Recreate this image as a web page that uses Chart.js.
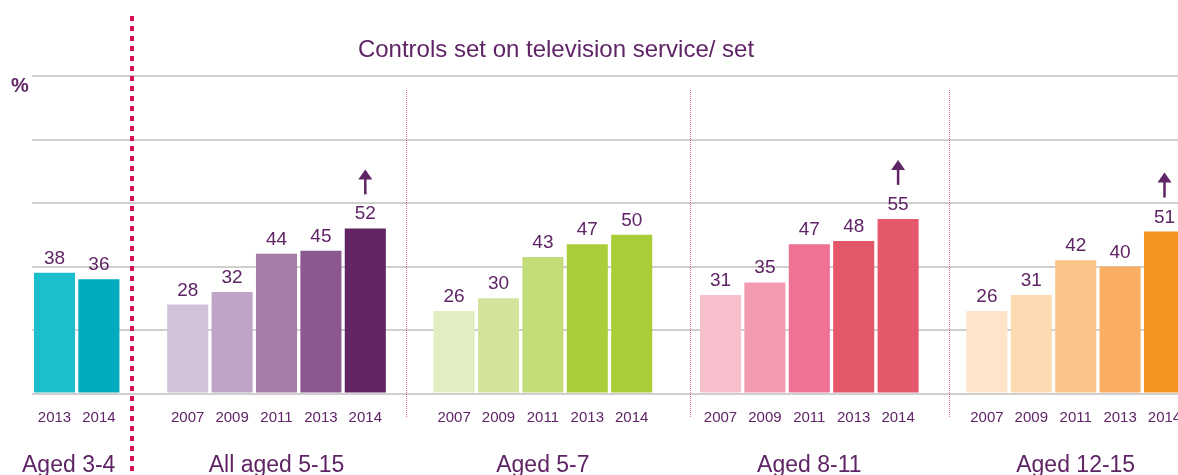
<!DOCTYPE html>
<html>
<head>
<meta charset="utf-8">
<script src="https://cdn.jsdelivr.net/npm/chart.js@4.4.1/dist/chart.umd.min.js"></script>
<style>
  html, body { margin: 0; padding: 0; background: #fff; }
  #wrap { width: 1178px; height: 475px; overflow: hidden; position: relative; }
</style>
</head>
<body>
<div id="wrap"><canvas id="myChart" width="1200" height="475"></canvas></div>
<script>
// data, gaps between age groups are null
const years = ['2013', '2014', '', '2007', '2009', '2011', '2013', '2014', '', '2007', '2009', '2011', '2013', '2014', '',
    '2007', '2009', '2011', '2013', '2014', '', '2007', '2009', '2011', '2013', '2014'];
const values = [38, 36, null, 28, 32, 44, 45, 52, null, 26, 30, 43, 47, 50, null,
    31, 35, 47, 48, 55, null, 26, 31, 42, 40, 51];
// significant change since 2013 (arrow up)
const arrowUp = [false, false, false, false, false, false, false, true, false, false, false, false, false, false, false,
    false, false, false, false, true, false, false, false, false, false, true];
const groupNames = ['Aged 3-4', 'All aged 5-15', 'Aged 5-7', 'Aged 8-11', 'Aged 12-15'];
const yTicks = [0, 20, 40, 60, 80, 100];

const barColors = ['#1bbecd', '#00abbd', null,
    '#d3c1da', '#bfa4c8', '#a57ba8', '#8c5890', '#622462', null,
    '#e2edc2', '#d2e39b', '#c2dc77', '#aace3a', '#a9cd36', null,
    '#f8c0cc', '#f39ab0', '#ef7295', '#e4566a', '#e5576a', null,
    '#fee4c8', '#fddab1', '#fbc58a', '#f9ae63', '#f5931f'];

const purple = '#5f2465';
const font = '"Liberation Sans", Arial, sans-serif';

// separators, in category units (first one is the thick red line)
const separators = [1.75, 7.92, 14.31, 20.15];

const decor = {
    id: 'decor',
    afterDatasetsDraw(chart) {
        const ctx = chart.ctx;
        const x = chart.scales.x;
        const meta = chart.getDatasetMeta(0);
        ctx.save();

        // value labels and arrows
        ctx.fillStyle = purple;
        ctx.strokeStyle = purple;
        ctx.textAlign = 'center';
        ctx.textBaseline = 'alphabetic';
        ctx.font = '19px ' + font;
        meta.data.forEach((bar, i) => {
            if (values[i] == null) return;
            ctx.fillText(String(values[i]), bar.x, bar.y - 9);
            if (arrowUp[i]) {
                const bottom = bar.y - 34;
                const top = bar.y - 59;
                ctx.lineWidth = 2.5;
                ctx.beginPath();
                ctx.moveTo(bar.x, bottom);
                ctx.lineTo(bar.x, top + 6);
                ctx.stroke();
                ctx.beginPath();
                ctx.moveTo(bar.x, top);
                ctx.lineTo(bar.x - 7, top + 10);
                ctx.lineTo(bar.x + 7, top + 10);
                ctx.closePath();
                ctx.fill();
            }
        });

        // group labels
        ctx.font = '23px ' + font;
        ctx.textBaseline = 'alphabetic';
        let start = 0, g = 0;
        for (let i = 0; i <= values.length; i++) {
            if (i === values.length || values[i] == null) {
                const cx = (x.getPixelForValue(start) + x.getPixelForValue(i - 1)) / 2;
                ctx.fillText(groupNames[g], g === 0 ? cx - 8 : cx, 472);
                g++;
                start = i + 1;
            }
        }

        // title and % label
        ctx.font = '24px ' + font;
        ctx.textBaseline = 'middle';
        ctx.fillText('Controls set on television service/ set', 556, 50);
        ctx.font = 'bold 20px ' + font;
        ctx.fillText('%', 20, 86);

        // separators
        separators.forEach((s, k) => {
            const px = Math.round(x.getPixelForValue(s));
            ctx.beginPath();
            if (k === 0) {
                ctx.strokeStyle = '#d3124f';
                ctx.lineWidth = 4;
                ctx.setLineDash([5, 5]);
                ctx.moveTo(px, 16);
                ctx.lineTo(px, 475);
            } else {
                ctx.strokeStyle = '#e6608a';
                ctx.lineWidth = 1;
                ctx.setLineDash([1, 1]);
                ctx.moveTo(px + 0.5, 90);
                ctx.lineTo(px + 0.5, 418);
            }
            ctx.stroke();
        });
        ctx.restore();
    }
};

new Chart(document.getElementById('myChart'), {
    type: 'bar',
    data: {
        labels: years,
        datasets: [{
            data: values,
            backgroundColor: barColors,
            borderWidth: 0,
            categoryPercentage: 1,
            barPercentage: 0.925,
        }]
    },
    options: {
        responsive: false,
        animation: false,
        layout: { padding: { top: 76, right: 13.3, left: 0, bottom: 0 } },
        plugins: {
            legend: { display: false },
            tooltip: { enabled: false },
        },
        scales: {
            x: {
                grid: { display: false, drawTicks: false },
                border: { display: false },
                ticks: {
                    color: purple,
                    font: { family: font, size: 15 },
                    padding: 15,
                    autoSkip: false,
                    maxRotation: 0,
                },
                afterFit: (s) => { s.height = 81.5; },
            },
            y: {
                min: yTicks[0],
                max: yTicks[yTicks.length - 1],
                afterBuildTicks: (s) => { s.ticks = yTicks.map(v => ({ value: v })); },
                ticks: { display: false },
                grid: { color: '#cfcfcf', lineWidth: 2, drawTicks: false },
                border: { display: false },
                afterFit: (s) => { s.width = 32.3; },
            },
        },
    },
    plugins: [decor]
});
</script>
</body>
</html>
